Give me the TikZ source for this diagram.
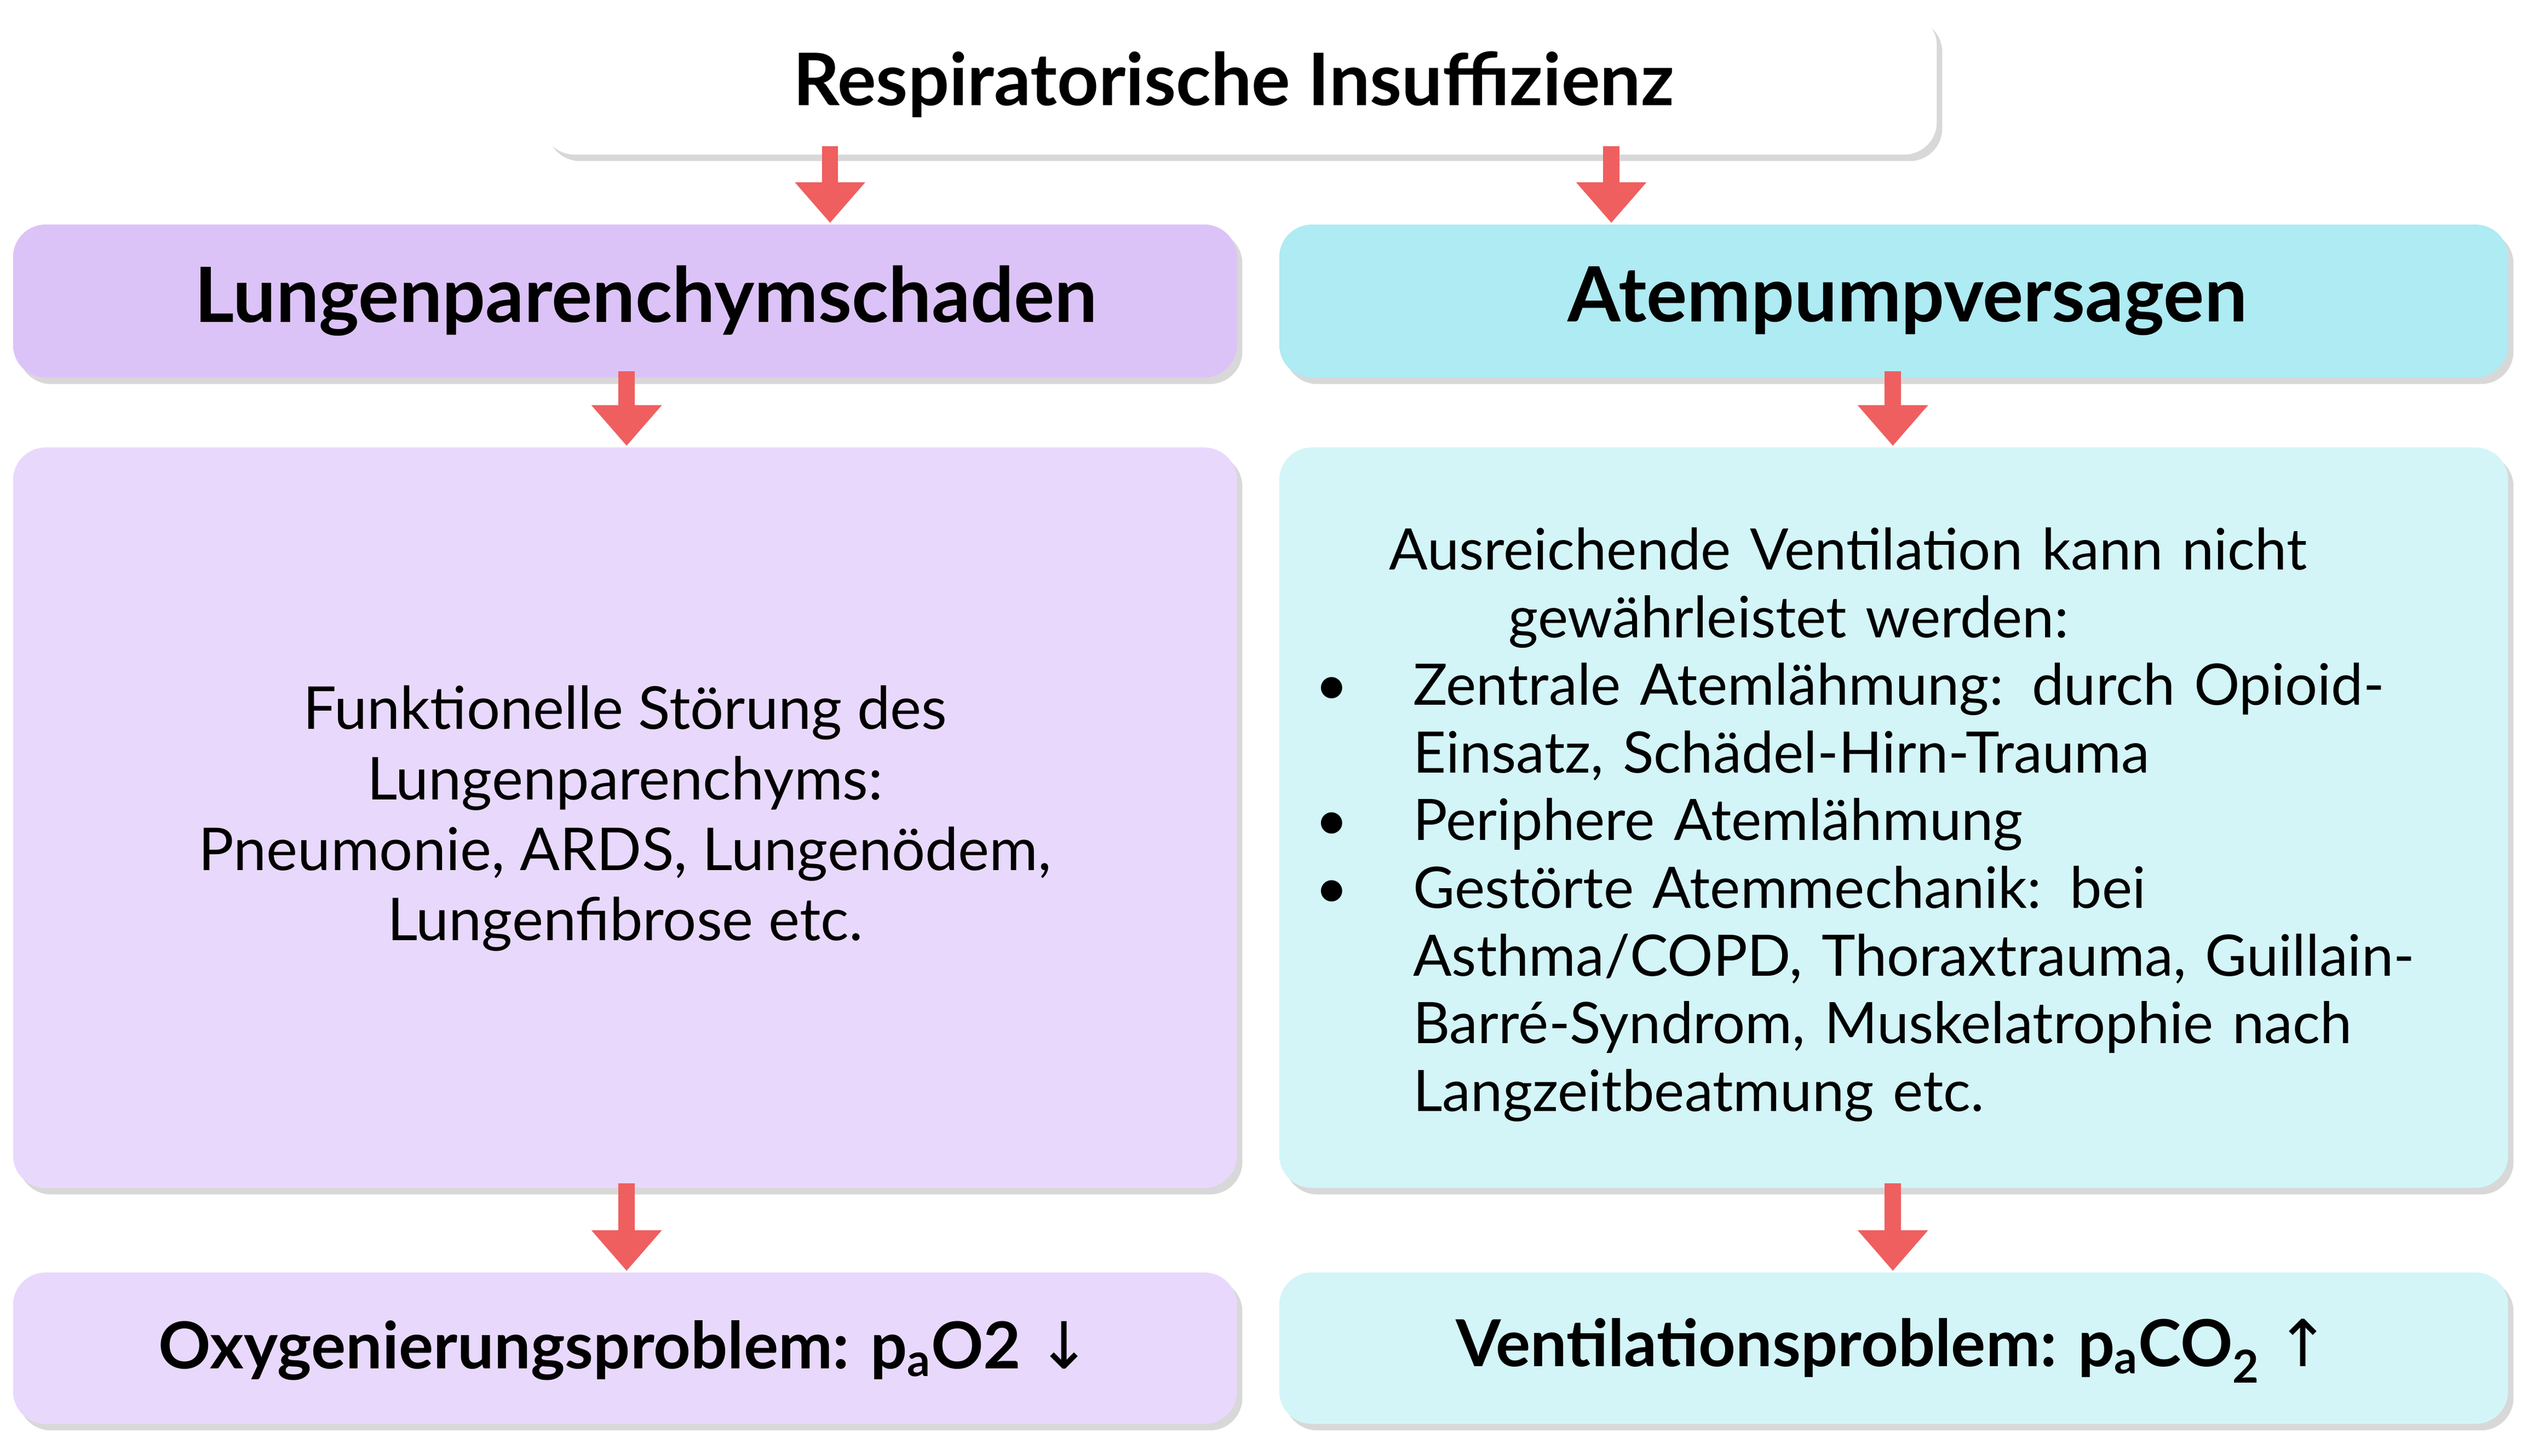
\documentclass[tikz,border=0pt]{standalone}
\usepackage{fontspec}
\setmainfont{Lato}
\newfontfamily\dejavu{DejaVu Sans}
\usetikzlibrary{shadows,arrows.meta}
\definecolor{hdrL}{HTML}{DCC3F7}
\definecolor{hdrR}{HTML}{AEEBF3}
\definecolor{bodyL}{HTML}{E8D9FC}
\definecolor{bodyR}{HTML}{D3F5F8}
\definecolor{arr}{HTML}{EF5F5F}
\tikzset{
  box/.style={rounded corners=0.6cm, draw=none, drop shadow={shadow xshift=0.1cm, shadow yshift=-0.12cm, opacity=0.25, fill=black!60}},
  flowarrow/.style={draw=arr, line width=0.3cm, -{Triangle[length=0.75cm,width=1.25cm]}},
  hdr/.style={font=\fontsize{40}{46}\selectfont\bfseries},
  body/.style={font=\fontsize{31}{37}\selectfont},
}
\begin{document}
\begin{tikzpicture}[x=0.03cm,y=-0.03cm]
\useasboundingbox (0,0) rectangle (1560,894.5);
\fill[white] (0,0) rectangle (1560,894.5);
\node[box, fill=white, minimum width=857*0.03cm, minimum height=87*0.03cm] (top) at (761.5,51.5) {};
\node[hdr, font=\fontsize{38}{44}\selectfont\bfseries] (toptxt) at (758,52) {Respiratorische Insuffizienz};
\node[box, fill=hdrL, minimum width=752*0.03cm, minimum height=94*0.03cm] (hl) at (384,185) {};
\node[hdr] at (397,185) {Lungenparenchymschaden};
\node[box, fill=hdrR, minimum width=755*0.03cm, minimum height=94*0.03cm] (hr) at (1163.5,185) {};
\node[hdr] at (1172,185) {Atempumpversagen};
\node[box, fill=bodyL, minimum width=752*0.03cm, minimum height=455*0.03cm] (bl) at (384,502.5) {};
\node[body, align=center] at (384,503) {Funktionelle Störung des\\Lungenparenchyms:\\Pneumonie, ARDS, Lungenödem,\\Lungenfibrose etc.};
\node[box, fill=bodyR, minimum width=755*0.03cm, minimum height=455*0.03cm] (br) at (1163.5,502.5) {};
\node[body, font=\fontsize{30}{35.5}\selectfont, text width=21cm, anchor=north west, inner sep=0pt] (brt) at (808,324) {%
\rightskip=0pt plus 1fil
{\leftskip=0pt plus 1fil\rightskip=0pt plus 1fil Ausreichende Ventilation kann nicht\\gewährleistet werden:\par}
\leftskip=1.8cm
\noindent\llap{\makebox[1.8cm][l]{•}}Zentrale Atemlähmung: durch Opioid-\\Einsatz, Schädel-Hirn-Trauma\par
\noindent\llap{\makebox[1.8cm][l]{•}}Periphere Atemlähmung\par
\noindent\llap{\makebox[1.8cm][l]{•}}Gestörte Atemmechanik: bei\\Asthma/COPD, Thoraxtrauma, Guillain-\\Barré-Syndrom, Muskelatrophie nach\\Langzeitbeatmung etc.\par};
\node[box, fill=bodyL, minimum width=752*0.03cm, minimum height=93*0.03cm] (ol) at (384,828.5) {};
\node[hdr, font=\fontsize{34}{40}\selectfont\bfseries] at (384,830) {Oxygenierungsproblem: p\textsubscript{a}O2 {\dejavu\mdseries ↓}};
\node[box, fill=bodyR, minimum width=755*0.03cm, minimum height=93*0.03cm] (orr) at (1163.5,828.5) {};
\node[hdr, font=\fontsize{34}{40}\selectfont\bfseries] at (1163,830) {Ventilationsproblem: p\textsubscript{a}CO\textsubscript{2} {\dejavu\mdseries ↑}};
\coordinate (a1s) at (510,90); \coordinate (a1e) at (510,137);
\coordinate (a2s) at (990,90); \coordinate (a2e) at (990,137);
\coordinate (a3s) at (385,228); \coordinate (a3e) at (385,274);
\coordinate (a4s) at (1163,228); \coordinate (a4e) at (1163,274);
\coordinate (a5s) at (385,727); \coordinate (a5e) at (385,781);
\coordinate (a6s) at (1163,727); \coordinate (a6e) at (1163,781);
\foreach \i in {1,...,6} \draw[flowarrow] (a\i s) -- (a\i e);
\end{tikzpicture}
\end{document}
